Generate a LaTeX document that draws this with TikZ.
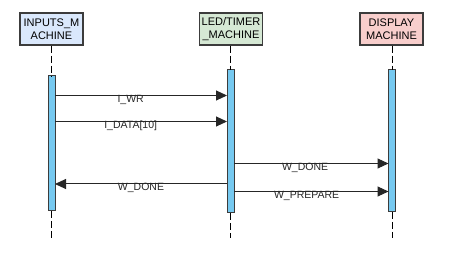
\documentclass[tikz,border=0pt]{standalone}
\usepackage{fontspec}
\setmainfont{Liberation Sans}
\usetikzlibrary{arrows.meta}
\definecolor{hdrblue}{HTML}{DAE8FC}
\definecolor{hdrgreen}{HTML}{D5E8D4}
\definecolor{hdrred}{HTML}{F8CECC}
\definecolor{barfill}{HTML}{76C9F0}
\definecolor{edge}{HTML}{3C3C3C}
\tikzset{
  header/.style={draw=edge, line width=1.3pt, minimum width=63pt, minimum height=32pt,
    inner sep=0pt, align=center, font=\fontsize{11}{13}\selectfont},
  actbar/.style={draw=edge, line width=1pt, fill=barfill, minimum width=7pt,
    inner sep=0pt, outer sep=0pt},
  lifeline/.style={black, line width=0.9pt, dash pattern=on 7pt off 3pt},
  msg/.style={black!85, line width=1pt, -{Triangle[length=11pt,width=10pt]}},
  lbl/.style={font=\fontsize{10.5}{12}\selectfont, anchor=base, yshift=-7pt, inner sep=0pt}
}
\begin{document}
\begin{tikzpicture}[x=1pt, y=-1pt]
  \useasboundingbox (0,0) rectangle (454,261);

  % participant headers
  \node[header, fill=hdrblue]  (hin)  at (51.5,29)  {INPUTS\_M\\ACHINE};
  \node[header, fill=hdrgreen] (hled) at (231,29)   {LED/TIMER\\\_MACHINE};
  \node[header, fill=hdrred]   (hdis) at (391.5,29) {DISPLAY\\MACHINE};

  % activation bars
  \node[actbar, minimum height=135pt] (bin)  at (51.5,143.5) {};
  \node[actbar, minimum height=143pt] (bled) at (230.5,141.5) {};
  \node[actbar, minimum height=142pt] (bdis) at (392,141) {};

  % lifeline ends
  \coordinate (ein)  at (51.5,238);
  \coordinate (eled) at (230.5,238);
  \coordinate (edis) at (392,238);

  % lifelines
  \draw[lifeline] (hin.south -| bin) -- (bin.north);
  \draw[lifeline] (bin.south) -- (ein);
  \draw[lifeline] (hled.south -| bled) -- (bled.north);
  \draw[lifeline] (bled.south) -- (eled);
  \draw[lifeline] (hdis.south -| bdis) -- (bdis.north);
  \draw[lifeline] (bdis.south) -- (edis);

  % messages
  \draw[msg] (bin.east |- 0,95.5) -- (bled.west |- 0,95.5)
    node[lbl, pos=0.44] {I\_WR};
  \draw[msg] (bin.east |- 0,121.5) -- (bled.west |- 0,121.5)
    node[lbl, pos=0.44] {I\_DATA[10]};
  \draw[msg] (bled.east |- 0,163.5) -- (bdis.west |- 0,163.5)
    node[lbl, pos=0.46] {W\_DONE};
  \draw[msg] (bled.west |- 0,184) -- (bin.east |- 0,184)
    node[lbl, pos=0.5] {W\_DONE};
  \draw[msg] (bled.east |- 0,191.5) -- (bdis.west |- 0,191.5)
    node[lbl, pos=0.47] {W\_PREPARE};
\end{tikzpicture}
\end{document}
